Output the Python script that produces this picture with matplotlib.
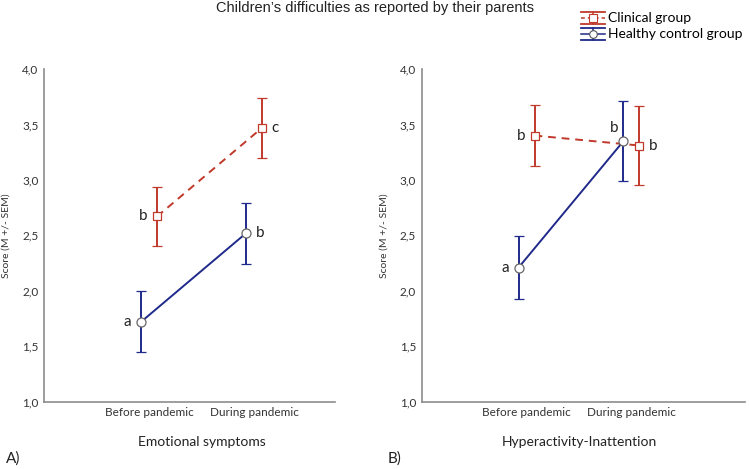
import numpy as np
import matplotlib
matplotlib.use("Agg")
import matplotlib.pyplot as plt
from matplotlib.ticker import FuncFormatter
from matplotlib.legend_handler import HandlerBase
from matplotlib.lines import Line2D

plt.rcParams['font.family'] = ['Lato', 'DejaVu Sans']

# data
periods = ["Before pandemic", "During pandemic"]
groups = ["Clinical group", "Healthy control group"]

emo_clin_mean = [2.67, 3.47]
emo_clin_sem = [0.27, 0.27]
emo_ctrl_mean = [1.72, 2.52]
emo_ctrl_sem = [0.275, 0.275]
emo_clin_letters = ["b", "c"]
emo_ctrl_letters = ["a", "b"]

hyp_clin_mean = [3.40, 3.31]
hyp_clin_sem = [0.275, 0.355]
hyp_ctrl_mean = [2.21, 3.35]
hyp_ctrl_sem = [0.28, 0.36]
hyp_clin_letters = ["b", "b"]
hyp_ctrl_letters = ["a", "b"]

red = "#c0392b"
blue = "#1f2a8a"
grey = "#8c8c8c"


class WideErrHandler(HandlerBase):
    # SPSS-like legend symbol: full-width caps, centre line and marker
    def __init__(self, color, ls, marker, mec):
        super().__init__()
        self.color, self.ls, self.marker, self.mec = color, ls, marker, mec

    def create_artists(self, legend, orig, xd, yd, w, h, fs, trans):
        top, bot, mid = yd + h * 1.0, yd - h * 0.2, yd + h * 0.4
        cx = xd + w / 2
        arts = [
            Line2D([xd, xd + w], [top, top], color=self.color, lw=1.3),
            Line2D([xd, xd + w], [bot, bot], color=self.color, lw=1.3),
            Line2D([cx, cx], [bot, top], color=self.color, lw=1.1),
            Line2D([xd, xd + w], [mid, mid], color=self.color, lw=1.1, ls=self.ls),
            Line2D([cx], [mid], marker=self.marker, ms=5.5, mfc="white",
                   mec=self.mec, mew=0.8, ls="none"),
        ]
        for a in arts:
            a.set_transform(trans)
        return arts


fig = plt.figure(figsize=(7.49, 4.69), dpi=100)
axA = fig.add_axes([44 / 749, 1 - 401.7 / 469, 291 / 749, 332.7 / 469])
axB = fig.add_axes([421.7 / 749, 1 - 401.7 / 469, 323 / 749, 332.7 / 469])

x = np.arange(1, len(periods) + 1)
off = 0.076


def draw(ax, cm, cs, hm, hs, xmax):
    ce = ax.errorbar(x + off, cm, yerr=cs, color=red, ls=(0, (4, 3)), lw=1.4,
                     marker="s", ms=6, mfc="white", mec=red, mew=0.9,
                     capsize=3.5, elinewidth=1.4, capthick=1.4, zorder=3)
    he = ax.errorbar(x - off, hm, yerr=hs, color=blue, ls="-", lw=1.4,
                     marker="o", ms=6.5, mfc="white", mec="#666666", mew=0.9,
                     capsize=3.5, elinewidth=1.4, capthick=1.4, zorder=3)
    ax.set_ylim(1, 4)
    ax.set_xlim(0, xmax)
    ax.set_yticks(np.arange(1, 4.01, 0.5))
    ax.yaxis.set_major_formatter(FuncFormatter(lambda v, p: f"{v:.1f}".replace(".", ",")))
    ax.set_xticks(x)
    ax.set_xticklabels(periods, fontsize=8.5)
    ax.tick_params(length=0, labelsize=8.5, pad=4, colors="#333333")
    for s in ["top", "right"]:
        ax.spines[s].set_visible(False)
    for s in ["left", "bottom"]:
        ax.spines[s].set_color(grey)
        ax.spines[s].set_linewidth(1.2)
    ax.set_ylabel("Score (M +/- SEM)", fontsize=7.5, labelpad=8, color="#333333")
    return ce, he


ceA, heA = draw(axA, emo_clin_mean, emo_clin_sem, emo_ctrl_mean, emo_ctrl_sem, 2.77)
draw(axB, hyp_clin_mean, hyp_clin_sem, hyp_ctrl_mean, hyp_ctrl_sem, 3.08)

# significance letters
lk = dict(fontsize=11, color="#222222", va="center")
axA.text(x[0] + off - 0.09, emo_clin_mean[0], emo_clin_letters[0], ha="right", **lk)
axA.text(x[1] + off + 0.09, emo_clin_mean[1], emo_clin_letters[1], ha="left", **lk)
axA.text(x[0] - off - 0.09, emo_ctrl_mean[0], emo_ctrl_letters[0], ha="right", **lk)
axA.text(x[1] - off + 0.09, emo_ctrl_mean[1], emo_ctrl_letters[1], ha="left", **lk)

axB.text(x[0] + off - 0.09, hyp_clin_mean[0], hyp_clin_letters[0], ha="right", **lk)
axB.text(x[1] + off + 0.09, hyp_clin_mean[1], hyp_clin_letters[1], ha="left", **lk)
axB.text(x[0] - off - 0.09, hyp_ctrl_mean[0], hyp_ctrl_letters[0], ha="right", **lk)
axB.text(x[1] - off - 0.05, hyp_ctrl_mean[1] + 0.12, hyp_ctrl_letters[1], ha="right", **lk)

# panel x labels
axA.text(1.5, -0.12, "Emotional symptoms", transform=axA.get_xaxis_transform(),
         ha="center", va="center", fontsize=10, color="#222222")
axB.text(1.5, -0.12, "Hyperactivity-Inattention", transform=axB.get_xaxis_transform(),
         ha="center", va="center", fontsize=10, color="#222222")
fig.text(6 / 749, 1 - 459 / 469, "A)", ha="left", va="center", fontsize=11, color="#222222")
fig.text(388 / 749, 1 - 459 / 469, "B)", ha="left", va="center", fontsize=11, color="#222222")

fig.text(0.5, 1 - 8 / 469, "Children\u2019s difficulties as reported by their parents",
         ha="center", va="center", fontsize=10.5, family=["Liberation Sans", "DejaVu Sans"],
         color="#222222")

fig.legend([ceA, heA], groups, loc="upper right", bbox_to_anchor=(1.0, 0.99),
           frameon=False, fontsize=10, handlelength=1.7, handletextpad=0.2,
           labelspacing=0.3, borderaxespad=0.1,
           handler_map={ceA: WideErrHandler(red, (0, (2.5, 2)), "s", red),
                        heA: WideErrHandler(blue, "-", "o", "#555555")})

fig.savefig("out.png", dpi=100)
